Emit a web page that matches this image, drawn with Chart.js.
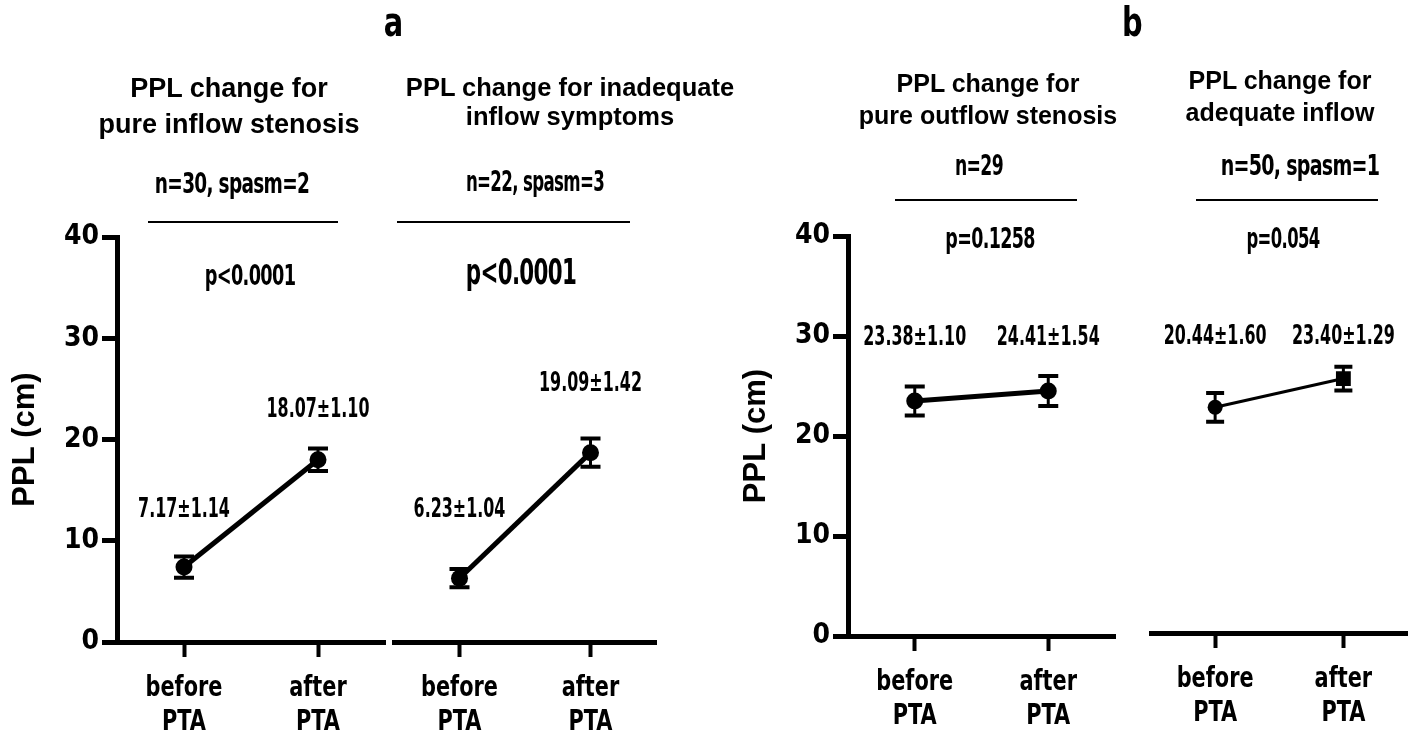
<!DOCTYPE html>
<html>
<head>
<meta charset="utf-8">
<script src="https://cdn.jsdelivr.net/npm/chart.js@4.4.1/dist/chart.umd.min.js"></script>
<style>
  body { margin: 0; background: #fff; }
  #wrap { position: relative; width: 1418px; height: 740px; overflow: hidden; }
  #wrap canvas { position: absolute; left: 0; top: 0; }
  .txt { position: absolute; white-space: nowrap; color: #000; line-height: 1; font-weight: bold; }
  .sans { font-family: 'Liberation Sans', Arial, sans-serif; }
  .narrow { font-family: 'DejaVu Sans Condensed', 'Liberation Sans Narrow', sans-serif; letter-spacing: -1px; }
  .rule { position: absolute; height: 2px; background: #000; }
</style>
</head>
<body>
<div id="wrap"></div>
<script>
const categories = [['before', 'PTA'], ['after', 'PTA']];
const yTicks = [0, 10, 20, 30, 40];

// a: pure inflow stenosis
const inflowMean = [7.4, 18.0];
const inflowSem = [1.05, 1.1];
const inflowLabels = ['7.17±1.14', '18.07±1.10'];
// a: inadequate inflow symptoms
const inadequateMean = [6.3, 18.7];
const inadequateSem = [0.9, 1.4];
const inadequateLabels = ['6.23±1.04', '19.09±1.42'];
// b: pure outflow stenosis
const outflowMean = [23.5, 24.5];
const outflowSem = [1.45, 1.5];
const outflowLabels = ['23.38±1.10', '24.41±1.54'];
// b: adequate inflow
const adequateMean = [22.8, 25.7];
const adequateSem = [1.45, 1.2];
const adequateLabels = ['20.44±1.60', '23.40±1.29'];

const NARROW = "'DejaVu Sans Condensed', 'Liberation Sans Narrow', sans-serif";
const SANS = "'Liberation Sans', Arial, sans-serif";
const Y_W = 117;

const panels = [
  { mean: inflowMean, sem: inflowSem, labels: inflowLabels, left: 117, right: 385, top: 237, bottom: 642,
    showY: true, lineW: 5, radius: [8.5, 8.5], style: 'circle', cap: 20, labelY: [510, 410] },
  { mean: inadequateMean, sem: inadequateSem, labels: inadequateLabels, left: 394, right: 656, top: 237, bottom: 642,
    showY: false, lineW: 5, radius: [8.5, 8.5], style: 'circle', cap: 20, labelY: [510, 384] },
  { mean: outflowMean, sem: outflowSem, labels: outflowLabels, left: 848, right: 1115, top: 236, bottom: 636,
    showY: true, lineW: 5, radius: [8.5, 8.5], style: 'circle', cap: 20, labelY: [338, 338] },
  { mean: adequateMean, sem: adequateSem, labels: adequateLabels, left: 1151, right: 1418, top: 237, bottom: 633,
    showY: false, lineW: 3, radius: [7.5, 10.5], style: ['circle', 'rect'], cap: 18, labelY: [337, 337] }
];

function squeezeText(ctx, text, x, y, size, sx) {
  ctx.save();
  ctx.font = 'bold ' + size + 'px ' + NARROW;
  ctx.translate(x, y);
  ctx.scale(sx, 1);
  ctx.fillText(text, 0, 0);
  ctx.restore();
}

const errorBars = {
  id: 'errorBars',
  afterDatasetsDraw(chart, args, opts) {
    const ctx = chart.ctx;
    const y = chart.scales.y;
    const meta = chart.getDatasetMeta(0);
    const ds = chart.data.datasets[0];
    ctx.save();
    ctx.strokeStyle = '#000';
    meta.data.forEach((pt, i) => {
      const top = y.getPixelForValue(ds.data[i] + ds.sem[i]);
      const bot = y.getPixelForValue(ds.data[i] - ds.sem[i]);
      ctx.lineWidth = 3;
      ctx.beginPath();
      ctx.moveTo(pt.x, top);
      ctx.lineTo(pt.x, bot);
      ctx.stroke();
      ctx.lineWidth = 4;
      ctx.beginPath();
      ctx.moveTo(pt.x - opts.cap / 2, top); ctx.lineTo(pt.x + opts.cap / 2, top);
      ctx.moveTo(pt.x - opts.cap / 2, bot); ctx.lineTo(pt.x + opts.cap / 2, bot);
      ctx.stroke();
    });
    ctx.fillStyle = '#000';
    ctx.textAlign = 'center';
    ctx.textBaseline = 'middle';
    meta.data.forEach((pt, i) => squeezeText(ctx, ds.valueText[i], pt.x, opts.labelY[i], 26, 0.68));
    ctx.restore();
  },
  // category labels under the x axis, drawn narrow like the original figure
  afterDraw(chart) {
    const ctx = chart.ctx;
    const x = chart.scales.x;
    ctx.save();
    ctx.fillStyle = '#000';
    ctx.textAlign = 'center';
    ctx.textBaseline = 'middle';
    chart.data.labels.forEach((lab, i) => {
      const px = x.getPixelForTick(i);
      lab.forEach((line, j) => squeezeText(ctx, line, px, x.top + 46 + j * 34, 29, 0.8));
    });
    ctx.restore();
  }
};

const wrap = document.getElementById('wrap');

panels.forEach(p => {
  const canvas = document.createElement('canvas');
  canvas.width = 1418;
  canvas.height = 740;
  wrap.appendChild(canvas);
  new Chart(canvas, {
    type: 'line',
    data: {
      labels: categories,
      datasets: [{
        data: p.mean,
        sem: p.sem,
        valueText: p.labels,
        borderColor: '#000',
        backgroundColor: '#000',
        borderWidth: p.lineW,
        pointRadius: p.radius,
        pointStyle: p.style,
        pointBorderWidth: 0,
        pointBackgroundColor: '#000',
        tension: 0
      }]
    },
    options: {
      responsive: false,
      animation: false,
      events: [],
      layout: {
        padding: { left: p.showY ? p.left - Y_W : p.left, right: 1418 - p.right, top: p.top, bottom: 0 }
      },
      plugins: {
        legend: { display: false },
        tooltip: { enabled: false },
        errorBars: { cap: p.cap, labelY: p.labelY }
      },
      scales: {
        x: {
          offset: true,
          afterFit: s => { s.height = 740 - p.bottom; },
          border: { display: true, width: 5, color: '#000' },
          grid: { display: true, offset: false, drawOnChartArea: false, drawTicks: true,
                  tickLength: 15, tickWidth: 4, tickColor: '#000', color: '#000' },
          ticks: { display: false }
        },
        y: {
          display: p.showY,
          min: 0,
          max: 40,
          afterBuildTicks: s => { s.ticks = yTicks.map(v => ({ value: v })); },
          afterFit: s => { s.width = p.showY ? Y_W : 0; },
          border: { display: true, width: 5, color: '#000' },
          grid: { display: true, drawOnChartArea: false, drawTicks: true,
                  tickLength: 15, tickWidth: 5, tickColor: '#000', color: '#000' },
          ticks: { color: '#000', padding: 3, font: { family: NARROW, size: 28, weight: 'bold' } },
          title: { display: true, text: 'PPL (cm)', color: '#000', padding: { top: 7, bottom: 0 },
                   font: { family: SANS, size: 31, weight: 'bold' } }
        }
      }
    },
    plugins: [errorBars]
  });
});

// headings, sample sizes and p values
const texts = [
  { t: 'a', x: 393, y: 22, s: 40, f: 'narrow', sx: 0.8 },
  { t: 'b', x: 1132, y: 22, s: 40, f: 'narrow', sx: 0.8 },
  { t: 'PPL change for', x: 229, y: 88, s: 27, f: 'sans' },
  { t: 'pure inflow stenosis', x: 229, y: 124, s: 27, f: 'sans' },
  { t: 'PPL change for inadequate', x: 570, y: 88, s: 25.5, f: 'sans' },
  { t: 'inflow symptoms', x: 570, y: 117, s: 25.5, f: 'sans' },
  { t: 'PPL change for', x: 988, y: 83, s: 25, f: 'sans' },
  { t: 'pure outflow stenosis', x: 988, y: 115, s: 25, f: 'sans' },
  { t: 'PPL change for', x: 1280, y: 80, s: 25, f: 'sans' },
  { t: 'adequate inflow', x: 1280, y: 112, s: 25, f: 'sans' },
  { t: 'n=30, spasm=2', x: 232, y: 183, s: 29, f: 'narrow', sx: 0.71 },
  { t: 'n=22, spasm=3', x: 535, y: 182, s: 28, f: 'narrow', sx: 0.66 },
  { t: 'n=29', x: 979, y: 165, s: 29, f: 'narrow', sx: 0.66 },
  { t: 'n=50, spasm=1', x: 1300, y: 165, s: 29, f: 'narrow', sx: 0.73 },
  { t: 'p<0.0001', x: 250, y: 275, s: 29, f: 'narrow', sx: 0.68 },
  { t: 'p<0.0001', x: 521, y: 272, s: 35, f: 'narrow', sx: 0.68 },
  { t: 'p=0.1258', x: 990, y: 238, s: 29, f: 'narrow', sx: 0.67 },
  { t: 'p=0.054', x: 1283, y: 238, s: 29, f: 'narrow', sx: 0.63 }
];
texts.forEach(d => {
  const el = document.createElement('div');
  el.className = 'txt ' + d.f;
  el.textContent = d.t;
  el.style.left = d.x + 'px';
  el.style.top = d.y + 'px';
  el.style.fontSize = d.s + 'px';
  el.style.transform = 'translate(-50%, -50%) scaleX(' + (d.sx || 1) + ')';
  wrap.appendChild(el);
});

const rules = [
  { x1: 148, x2: 338, y: 222 },
  { x1: 397, x2: 630, y: 222 },
  { x1: 895, x2: 1077, y: 200 },
  { x1: 1196, x2: 1378, y: 200 }
];
rules.forEach(r => {
  const el = document.createElement('div');
  el.className = 'rule';
  el.style.left = r.x1 + 'px';
  el.style.width = (r.x2 - r.x1) + 'px';
  el.style.top = (r.y - 1) + 'px';
  wrap.appendChild(el);
});
</script>
</body>
</html>
